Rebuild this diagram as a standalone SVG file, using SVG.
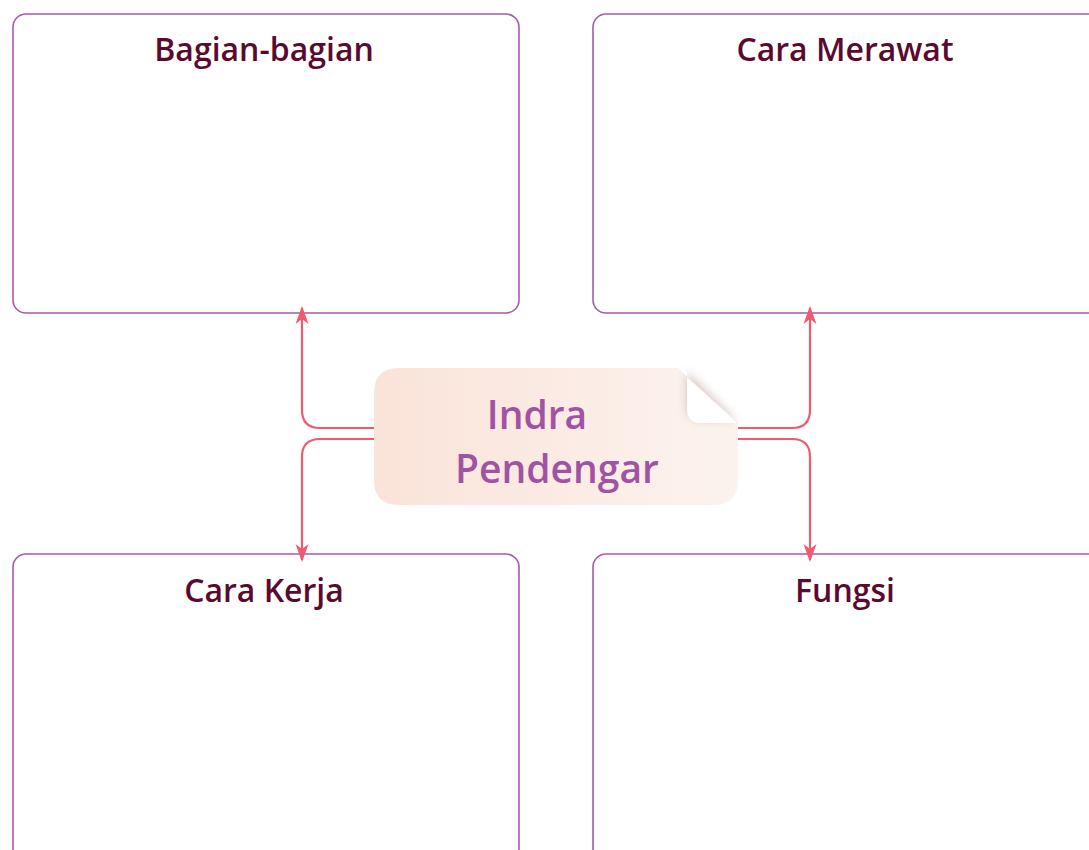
<svg xmlns="http://www.w3.org/2000/svg" width="1089" height="850" viewBox="0 0 1089 850">
<style>
.box{fill:#ffffff;stroke:#a65aae;stroke-width:1.6}
.title{font-family:"Open Sans","Noto Sans",sans-serif;font-weight:600;font-size:32px;fill:#5a0a2e;text-anchor:middle}
.center{font-family:"Open Sans","Noto Sans",sans-serif;font-weight:600;font-size:39px;fill:#a153a3;text-anchor:middle}
.conn{fill:none;stroke:#ef5a70;stroke-width:2.2}
</style>
<defs>
<linearGradient id="ng" x1="0" y1="0" x2="1" y2="0">
<stop offset="0" stop-color="#fae3d9"/>
<stop offset="1" stop-color="#fcf3ee"/>
</linearGradient>
<filter id="sh" x="-50%" y="-50%" width="200%" height="200%">
<feGaussianBlur stdDeviation="5"/>
</filter>
<marker id="ah" viewBox="0 0 18 13" refX="16" refY="6.5" markerWidth="18" markerHeight="13" markerUnits="userSpaceOnUse" orient="auto" overflow="visible">
<path d="M0,0 L18,6.5 L0,13 L5,6.5 Z" fill="#ef5a70"/>
</marker>
</defs>
<g id="box-bagian">
<rect class="box" x="13" y="14" width="506" height="299" rx="13"/>
<text class="title" x="264" y="61">Bagian-bagian</text>
</g>
<g id="box-merawat">
<rect class="box" x="593" y="14" width="520" height="299" rx="13"/>
<text class="title" x="845" y="61">Cara Merawat</text>
</g>
<g id="box-kerja">
<rect class="box" x="13" y="554" width="506" height="320" rx="13"/>
<text class="title" x="264" y="602">Cara Kerja</text>
</g>
<g id="box-fungsi">
<rect class="box" x="593" y="554" width="520" height="320" rx="13"/>
<text class="title" x="845" y="602">Fungsi</text>
</g>
<g id="connectors">
<path class="conn" d="M375,428 H320 Q302,428 302,410 V308" marker-end="url(#ah)"/>
<path class="conn" d="M375,439 H320 Q302,439 302,457 V560" marker-end="url(#ah)"/>
<path class="conn" d="M737,428 H792 Q810,428 810,410 V308" marker-end="url(#ah)"/>
<path class="conn" d="M737,439 H792 Q810,439 810,457 V560" marker-end="url(#ah)"/>
</g>
<g id="node-center">
<path d="M399,368 H677 L738,423 V480 Q738,505 713,505 H399 Q374,505 374,480 V393 Q374,368 399,368 Z" fill="url(#ng)"/>
<path d="M687,372 V404 Q687,420 703,420 H734 L738,423 Z" fill="#c9b4aa" opacity="0.8" filter="url(#sh)"/>
<path d="M677,368 L738,423 H701 Q687,423 687,409 V372 Z" fill="#ffffff"/>
<path d="M677,368 L738,423" stroke="#f3ecea" stroke-width="1" fill="none"/>
<text class="center" x="537" y="429">Indra</text>
<text class="center" x="557" y="483">Pendengar</text>
</g>
</svg>
